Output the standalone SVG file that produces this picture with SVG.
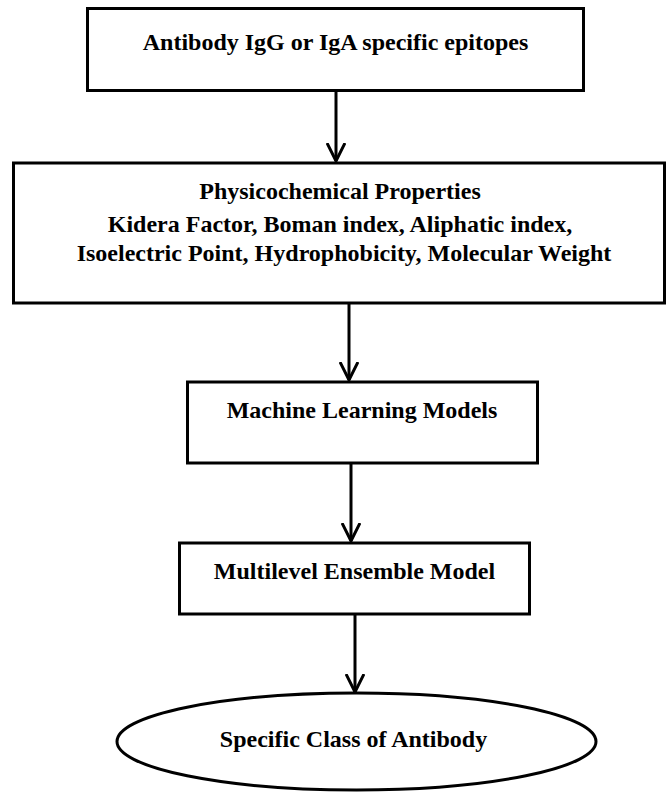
<svg xmlns="http://www.w3.org/2000/svg" width="670" height="793" viewBox="0 0 670 793">
  <defs>
    <style>
      .box { fill: #ffffff; stroke: #000000; stroke-width: 3; }
      .lbl { font-family: "Liberation Serif", "Times New Roman", serif; font-weight: bold; font-size: 24px; fill: #000000; text-anchor: middle; }
      .wire { fill: none; stroke: #000000; stroke-width: 3; }
    </style>
    <marker id="vhead" viewBox="0 0 20 20" refX="18" refY="10" markerWidth="20" markerHeight="20" markerUnits="userSpaceOnUse" orient="auto">
      <path d="M0,1 L18,10 L0,19" fill="none" stroke="#000000" stroke-width="3"/>
    </marker>
  </defs>
  <rect width="670" height="793" fill="#ffffff"/>

  <g id="node-epitopes">
    <rect class="box" x="87.5" y="8.5" width="496" height="82"/>
    <text class="lbl" x="335.5" y="50">Antibody IgG or IgA specific epitopes</text>
  </g>

  <g id="node-properties">
    <rect class="box" x="13.5" y="163" width="651" height="140"/>
    <text class="lbl" x="340" y="199">Physicochemical Properties</text>
    <text class="lbl" x="340" y="232">Kidera Factor, Boman index, Aliphatic index,</text>
    <text class="lbl" x="344" y="261">Isoelectric Point, Hydrophobicity, Molecular Weight</text>
  </g>

  <g id="node-ml">
    <rect class="box" x="187.5" y="382" width="350" height="81"/>
    <text class="lbl" x="362" y="418">Machine Learning Models</text>
  </g>

  <g id="node-ensemble">
    <rect class="box" x="179.5" y="543" width="350" height="71"/>
    <text class="lbl" x="354.5" y="579">Multilevel Ensemble Model</text>
  </g>

  <g id="node-class">
    <ellipse class="box" cx="356.5" cy="741.5" rx="239.5" ry="48.5"/>
    <text class="lbl" x="353.5" y="747">Specific Class of Antibody</text>
  </g>

  <g id="connectors">
    <line class="wire" x1="336" y1="90" x2="336" y2="161" marker-end="url(#vhead)"/>
    <line class="wire" x1="349" y1="303" x2="349" y2="380" marker-end="url(#vhead)"/>
    <line class="wire" x1="351" y1="463" x2="351" y2="541" marker-end="url(#vhead)"/>
    <line class="wire" x1="355" y1="614" x2="355" y2="692" marker-end="url(#vhead)"/>
  </g>
</svg>
